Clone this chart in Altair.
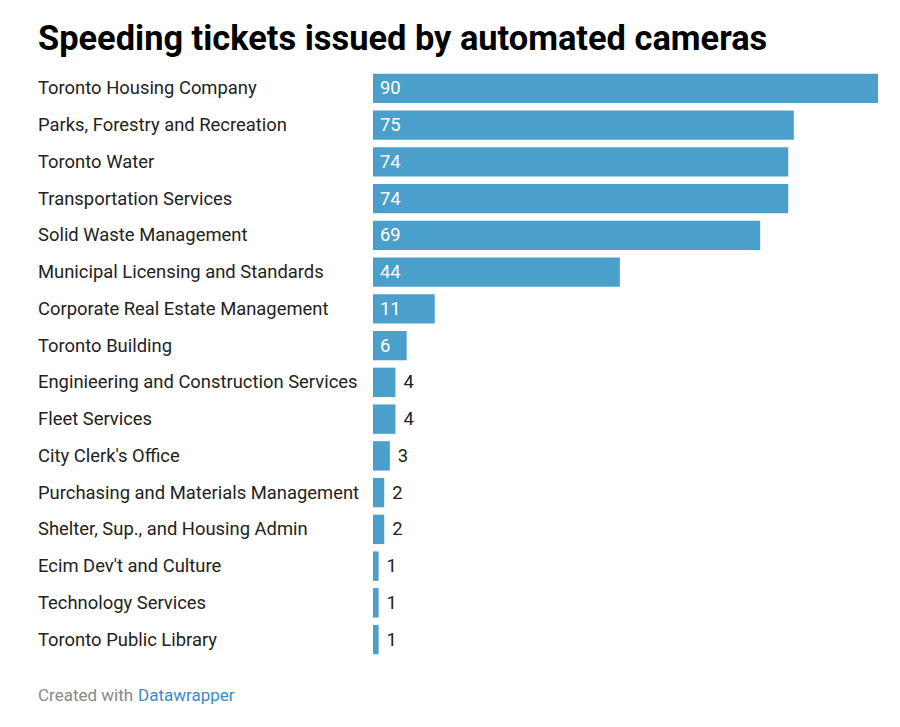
import altair as alt
import pandas as pd

categories = [
    "Toronto Housing Company",
    "Parks, Forestry and Recreation",
    "Toronto Water",
    "Transportation Services",
    "Solid Waste Management",
    "Municipal Licensing and Standards",
    "Corporate Real Estate Management",
    "Toronto Building",
    "Enginieering and Construction Services",
    "Fleet Services",
    "City Clerk's Office",
    "Purchasing and Materials Management",
    "Shelter, Sup., and Housing Admin",
    "Ecim Dev't and Culture",
    "Technology Services",
    "Toronto Public Library",
]
values = [90, 75, 74, 74, 69, 44, 11, 6, 4, 4, 3, 2, 2, 1, 1, 1]

title_text = "Speeding tickets issued by automated cameras"
footer_prefix = "Created with"
footer_link = "Datawrapper"

df = pd.DataFrame({"category": categories, "value": values})

FONT = "Roboto"
BAR_COLOR = "#4b9fcb"
LABEL_SIZE = 18.4

y_enc = alt.Y("category:N", sort=categories, axis=None,
              scale=alt.Scale(paddingInner=0.2, paddingOuter=0.1))
x_scale = alt.Scale(domain=[0, 90], range=[335, 840], nice=False, zero=True)

base = alt.Chart(df)

bars = base.mark_bar(color=BAR_COLOR, cornerRadius=0).encode(
    y=y_enc,
    x=alt.X("value:Q", scale=x_scale, axis=None),
)

labels = base.mark_text(align="left", baseline="middle", font=FONT,
                        fontSize=LABEL_SIZE, color="#222222").encode(
    y=y_enc,
    x=alt.value(0),
    text="category:N",
)

inside_vals = base.transform_filter("datum.value >= 6").mark_text(
    align="left", baseline="middle", font=FONT, fontSize=LABEL_SIZE,
    color="white", dx=7).encode(
    y=y_enc,
    x=alt.value(335),
    text="value:Q",
)

outside_vals = base.transform_filter("datum.value < 6").mark_text(
    align="left", baseline="middle", font=FONT, fontSize=LABEL_SIZE,
    color="#222222", dx=8).encode(
    y=y_enc,
    x=alt.X("value:Q", scale=x_scale, axis=None),
    text="value:Q",
)

title_df = pd.DataFrame({"t": [title_text]})
title = alt.Chart(title_df).mark_text(
    align="left", baseline="alphabetic", font=FONT, fontWeight="bold",
    fontSize=34.4, color="#000000").encode(
    x=alt.value(0), y=alt.value(-20), text="t:N")

foot1 = alt.Chart(pd.DataFrame({"t": [footer_prefix]})).mark_text(
    align="left", baseline="alphabetic", font=FONT, fontSize=17,
    color="#888888").encode(x=alt.value(0), y=alt.value(631), text="t:N")
foot2 = alt.Chart(pd.DataFrame({"t": [footer_link]})).mark_text(
    align="left", baseline="alphabetic", font=FONT, fontSize=17,
    color="#3b8bd0").encode(x=alt.value(100), y=alt.value(631), text="t:N")

chart = alt.layer(bars, labels, inside_vals, outside_vals, title, foot1, foot2).properties(
    width=840, height=588,
    autosize=alt.AutoSizeParams(type="none"),
    padding={"left": 30, "top": 62, "right": 0, "bottom": 60},
    background="white",
).configure_view(stroke=None, strokeWidth=0)

chart.save("out.html", embed_options={"renderer": "svg", "actions": False})
